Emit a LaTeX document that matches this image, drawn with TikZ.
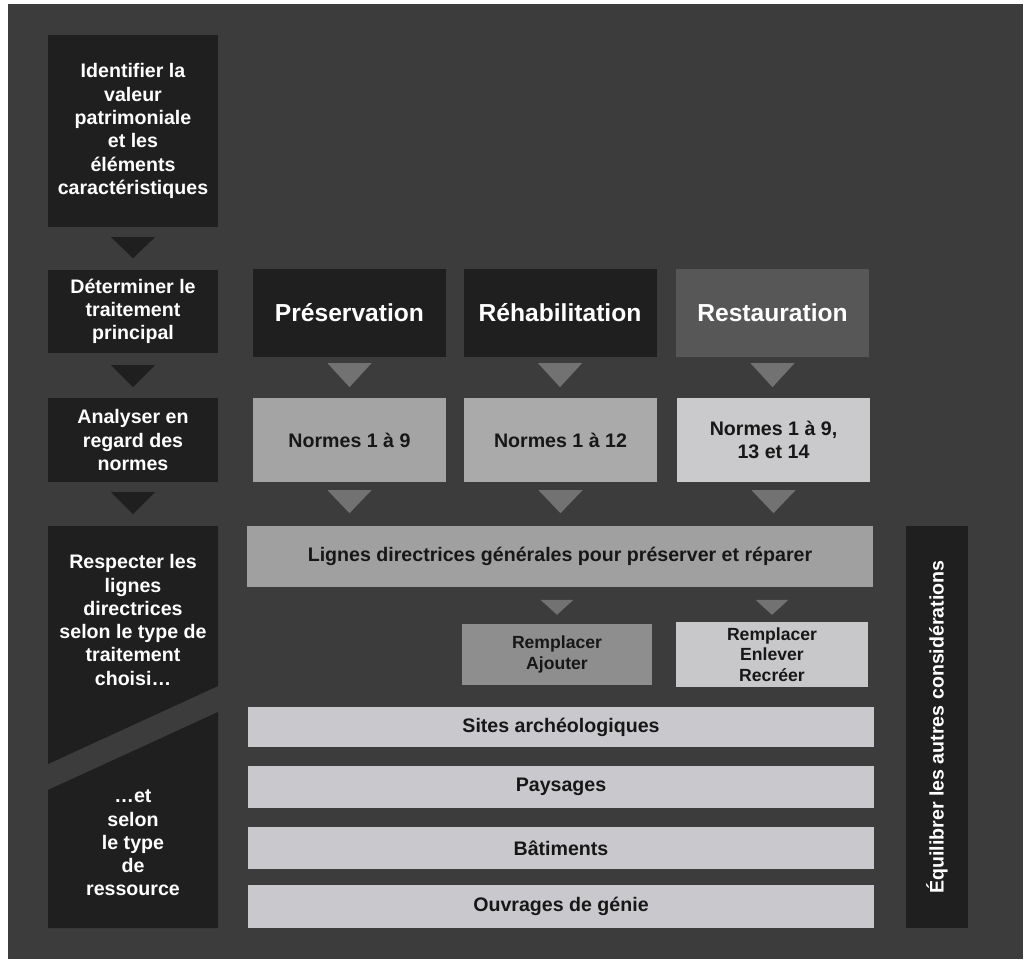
\documentclass[tikz,border=0pt]{standalone}
\usepackage{fontspec}
\setmainfont{Liberation Sans}
\usetikzlibrary{calc}
\definecolor{bgc}{HTML}{3C3C3C}
\definecolor{darkc}{HTML}{1F1F1F}
\definecolor{restc}{HTML}{575757}
\definecolor{tric}{HTML}{727272}
\definecolor{normA}{HTML}{A4A4A4}
\definecolor{normB}{HTML}{AAAAAA}
\definecolor{normC}{HTML}{CACACC}
\definecolor{lignc}{HTML}{A0A0A0}
\definecolor{rempA}{HTML}{8E8E8E}
\definecolor{rempB}{HTML}{C8C8CA}
\definecolor{rowc}{HTML}{C9C9CD}
\definecolor{inkc}{HTML}{171717}
\newcommand{\downtri}[5]{\fill[#1] ($(#2)+(-#4,#3)$) -- ($(#2)+(#4,#3)$) -- ($(#2)+(0,#3+#5)$) -- cycle;}
\begin{document}
\begin{tikzpicture}[x=1pt,y=-1pt,
  box/.style={rectangle, inner sep=0pt, align=center, font=\bfseries\fontsize{19.6}{23.3}\selectfont},
  leftbox/.style={box, fill=darkc, text=white, minimum width=170pt},
  lefttext/.style={box, text=white},
  headbox/.style={box, text=white, minimum width=193pt, minimum height=88pt, font=\bfseries\fontsize{24.6}{29}\selectfont},
  normbox/.style={box, text=inkc, minimum width=193pt, minimum height=84pt},
  rempbox/.style={box, text=inkc, font=\bfseries\fontsize{17.6}{20.5}\selectfont},
  rowbox/.style={box, fill=rowc, text=inkc, minimum width=626pt}
]
\useasboundingbox (0,0) rectangle (1025,961);
\fill[white] (0,0) rectangle (1025,961);
\fill[bgc] (8,4) rectangle (1023,959);

% left column
\node[leftbox, minimum height=192pt] (l1) at (133,131) {Identifier la\\valeur\\patrimoniale\\et les\\éléments\\caractéristiques};
\node[leftbox, minimum height=83pt] (l2) at (133,311.5) {Déterminer le\\traitement\\principal};
\node[leftbox, minimum height=84pt] (l3) at (133,440) {Analyser en\\regard des\\normes};
\fill[darkc] (48,526) -- (218,526) -- (218,686) -- (48,764) -- cycle;
\fill[darkc] (48,790) -- (218,712) -- (218,928) -- (48,928) -- cycle;
\node[lefttext] (l4a) at (133,620) {Respecter les\\lignes\\directrices\\selon le type de\\traitement\\choisi…};
\node[lefttext] (l4b) at (133,843) {…et\\selon\\le type\\de\\ressource};

\downtri{darkc}{l1.south}{10}{22}{21}
\downtri{darkc}{l2.south}{12}{22}{22}
\downtri{darkc}{l3.south}{10}{22}{22}

% treatments
\node[headbox, fill=darkc] (pres) at (349.5,313) {Préservation};
\node[headbox, fill=darkc] (rehab) at (560,313) {Réhabilitation};
\node[headbox, fill=restc] (resta) at (772.5,313) {Restauration};

\node[normbox, fill=normA] (n1) at (349.5,440) {Normes 1 à 9};
\node[normbox, fill=normB] (n2) at (560.5,440) {Normes 1 à 12};
\node[normbox, fill=normC] (n3) at (773.5,440) {Normes 1 à 9,\\13 et 14};

\downtri{tric}{pres.south}{6}{22}{24}
\downtri{tric}{rehab.south}{6}{22}{24}
\downtri{tric}{resta.south}{6}{22}{24}
\downtri{tric}{n1.south}{8}{22}{23}
\downtri{tric}{n2.south}{8}{22}{23}
\downtri{tric}{n3.south}{8}{22}{23}

\node[box, fill=lignc, text=inkc, minimum width=626pt, minimum height=61pt] (lign) at (560,556.5) {Lignes directrices générales pour préserver et réparer};

\node[rempbox, fill=rempA, minimum width=190pt, minimum height=61pt] (ra) at (557,654.5) {Remplacer\\Ajouter};
\node[rempbox, fill=rempB, minimum width=192pt, minimum height=65pt] (re) at (772,654.5) {Remplacer\\Enlever\\Recréer};
\downtri{tric}{ra.north}{-24}{16.5}{15}
\downtri{tric}{re.north}{-22}{16.5}{15}

\node[rowbox, minimum height=40pt] (sites) at (561,727) {Sites archéologiques};
\node[rowbox, minimum height=42pt] (pays) at (561,787) {Paysages};
\node[rowbox, minimum height=42pt] (bati) at (561,848) {Bâtiments};
\node[rowbox, minimum height=43pt] (ouvr) at (561,906.5) {Ouvrages de génie};

\node[box, fill=darkc, minimum width=62pt, minimum height=402pt] (bar) at (937,727) {};
\node[box, text=white, rotate=90] (bartext) at (bar.center) {Équilibrer les autres considérations};
\end{tikzpicture}
\end{document}
